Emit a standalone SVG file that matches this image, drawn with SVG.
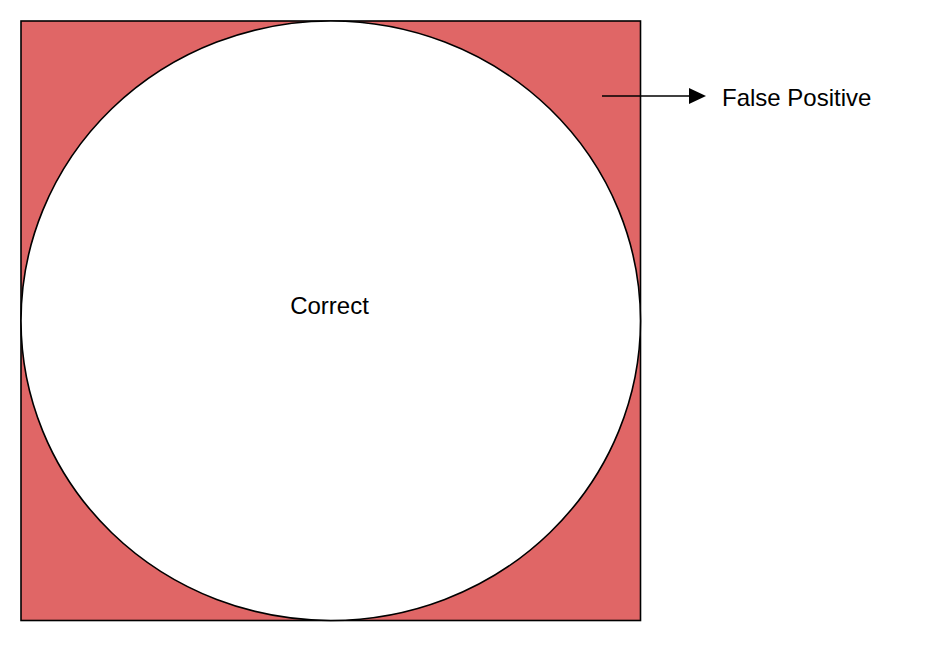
<svg xmlns="http://www.w3.org/2000/svg" width="948" height="660" viewBox="0 0 948 660">
<style>
text{font-family:"Liberation Sans",Arial,sans-serif;font-size:24px;fill:#000}
</style>
<rect width="948" height="660" fill="#fff"/>
<g id="fp-square">
<rect x="21" y="21" width="619.5" height="599.5" fill="#E06666" stroke="#000" stroke-width="1.6"/>
</g>
<g id="correct">
<ellipse cx="330.75" cy="320.75" rx="309.75" ry="299.75" fill="#fff" stroke="#000" stroke-width="1.6"/>
<text x="329.5" y="314" text-anchor="middle">Correct</text>
</g>
<g id="connectors">
<line x1="602" y1="96" x2="690" y2="96" stroke="#000" stroke-width="1.6"/>
<path d="M689,88 L706,96 L689,104 z" fill="#000"/>
</g>
<g id="fp-label">
<text x="722" y="106">False Positive</text>
</g>
</svg>
